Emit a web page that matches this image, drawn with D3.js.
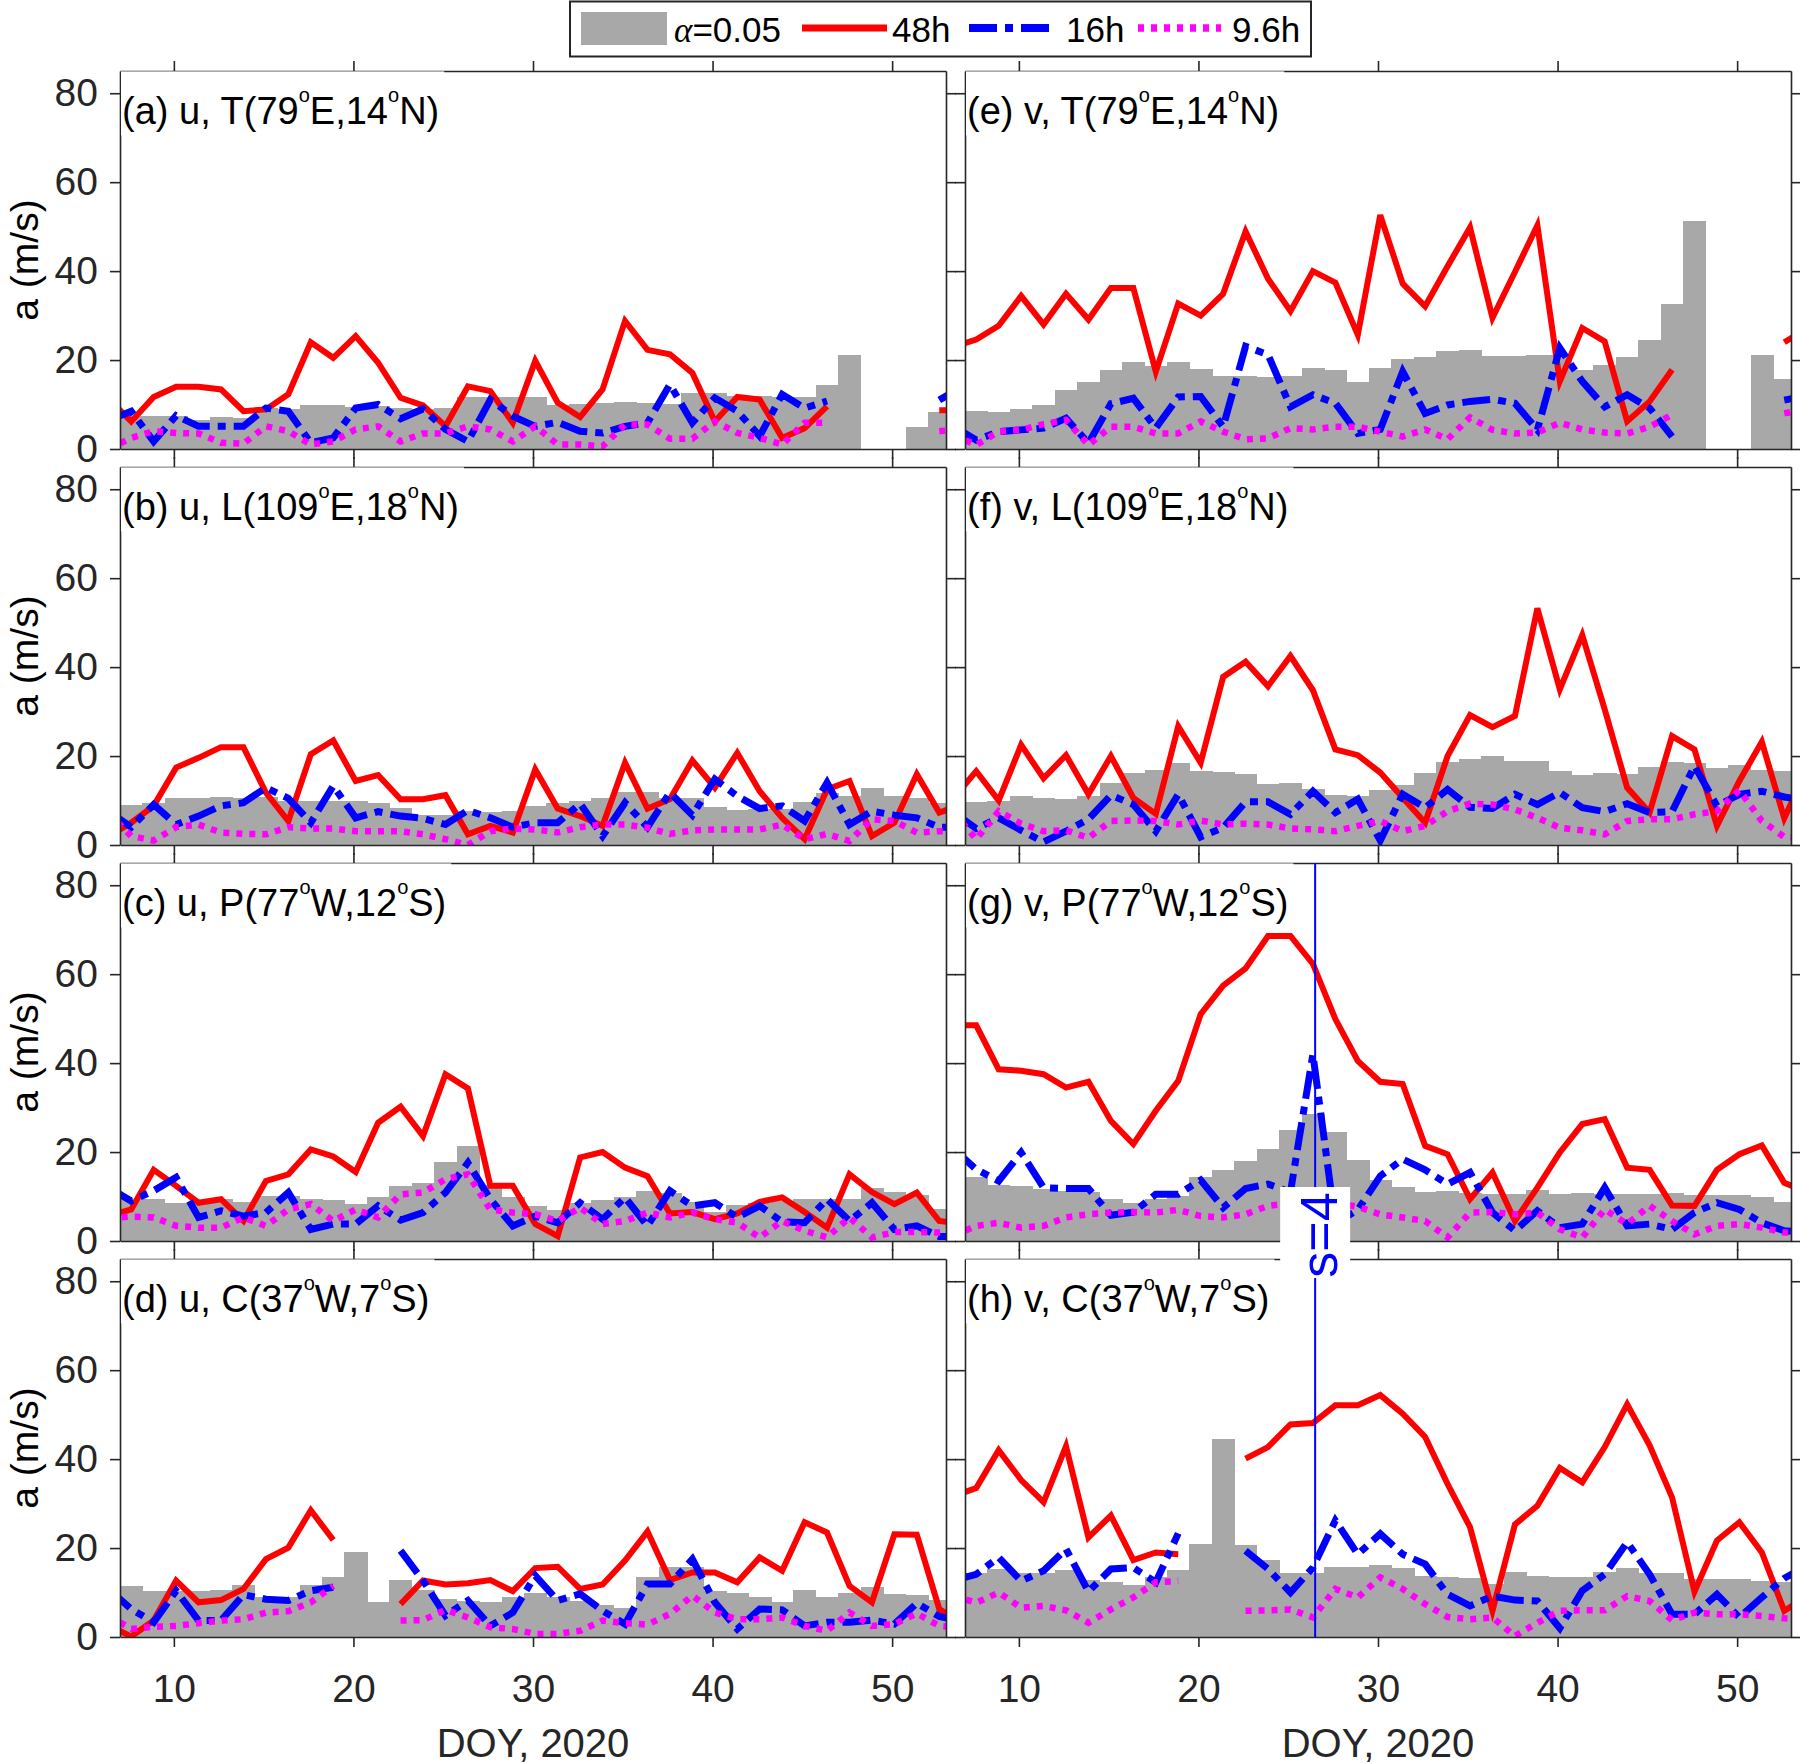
<!DOCTYPE html>
<html>
<head>
<meta charset="utf-8">
<script src="https://cdn.jsdelivr.net/npm/d3@7"></script>
<style>
  body { margin: 0; background: #fff; }
  svg { display: block; font-family: "Liberation Sans", Arial, Helvetica, sans-serif; }
  .axis path, .axis line { stroke: #262626; stroke-width: 1.6; }
  .axis text { fill: #262626; font-size: 39px; font-family: "Liberation Sans", Arial, Helvetica, sans-serif; }
</style>
</head>
<body>
<svg width="1800" height="1764"></svg>
<script>
// sample times (DOY); first and last fall just outside the axes
const days = [6.375, 7.625, 8.875, 10.125, 11.375, 12.625, 13.875, 15.125, 16.375, 17.625,
  18.875, 20.125, 21.375, 22.625, 23.875, 25.125, 26.375, 27.625, 28.875, 30.125,
  31.375, 32.625, 33.875, 35.125, 36.375, 37.625, 38.875, 40.125, 41.375, 42.625,
  43.875, 45.125, 46.375, 47.625, 48.875, 50.125, 51.375, 52.625, 53.875]
const barDays = days.slice(1, 38)
const barWidth = 1.25
const xTicks = [10, 20, 30, 40, 50]
const yTicks = [0, 20, 40, 60, 80]
const markDay = 26.5

// (a) u, T
const aSig = [7.5, 7.5, 7.5, 6.6, 7.1, 7.0, 9.2, 9.1, 9.8, 9.8, 9.5, 9.6, 9.2, 9.1, 9.2, 11.7, 11.7, 11.6, 11.6, 10.0, 10.2, 10.4, 10.5, 10.4, 10.2, 12.5, 12.5, 12.0, 12.0, 11.7, 11.7, 14.3, 21.1, null, null, 5.0, 8.3]
const a48 = [11.2, 6.2, 11.7, 14, 14, 13.4, 8.5, 8.9, 12.3, 24, 20.5, 25.4, 19.4, 11.5, 9.8, 5.1, 14.1, 13, 5.9, 19.8, 10.4, 7.2, 13.4, 28.8, 22.3, 21.3, 17.1, 6.2, 11.7, 11.1, 2.5, 4.7, 9.6, null, null, null, null, 8.7, 8.7]
const a16 = [6.5, 8.5, 1.7, 7.5, 5.1, 5.1, 5.1, 9.2, 8.5, 1.4, 2.5, 9.2, 10, 6.8, 9, 4.4, 1.7, 11.1, 7.4, 5.1, 6, 4, 3.6, 5.1, 5.9, 14.5, 5.9, 11.5, 8.5, 2.9, 12.3, 9.2, 10.8, null, null, null, null, 11, 14]
const a96 = [0, 2.5, 4, 3.6, 3.5, 1.4, 1.2, 5.1, 4, 1, 1.7, 4.4, 5.1, 1.7, 3.5, 3.5, 5.1, 4.4, 1.7, 5.1, 1, 1, 0.6, 5.5, 5.5, 2.3, 2.3, 6.2, 3.6, 2.5, 1, 5.9, 5.9, null, null, null, null, 4, 4.5]

// (b) u, L
const bSig = [8.9, 9.5, 10.5, 10.6, 10.8, 10.6, 10.8, 9.9, 10, 10, 9.9, 9.5, 8.4, 6.7, 6.7, 7.6, 7.5, 7.6, 8.8, 9.5, 9.9, 10.5, 11.9, 11.9, 10.5, 10.5, 8.5, 7.8, 8.2, 8.2, 9.7, 11.8, 11, 12.9, 11, 10.5, 9.5]
const b48 = [2, 5, 8.8, 17.4, 19.6, 22, 22, 11.8, 5.4, 20.4, 23.5, 14.4, 15.7, 10.3, 10.3, 11.2, 2.4, 4.3, 2.8, 17, 8.2, 6.5, 4.3, 18.5, 8.2, 10.3, 19, 12.9, 20.7, 12.1, 6.1, 1.3, 12.5, 14.4, 2, 5, 15.9, 7.3, 9]
const b16 = [7.6, 4, 9.1, 4.6, 6.5, 8.8, 9.5, 12.9, 10.5, 5, 13.3, 6.1, 7.5, 6.5, 6, 4.6, 7.8, 6.1, 4, 5, 5, 9.3, 2, 9.5, 4, 11.8, 6.7, 14.8, 11, 8.2, 8.8, 5.4, 14, 4.6, 7.6, 6.7, 6.1, 4, 4]
const b96 = [7.2, 2, 1, 4, 4.6, 2.8, 2.5, 2.4, 4, 3.7, 3.7, 3.1, 3.1, 3.1, 2.4, 1.3, 0, 3.1, 3.7, 3.5, 2.8, 4, 4.6, 4.6, 3.9, 2.5, 3.3, 3.5, 3.5, 3.5, 4.6, 1.3, 2.5, 0.9, 5.8, 5.4, 2.8, 3.1, 3]

// (c) u, P
const cSig = [9.5, 9.4, 8.6, 8.8, 9.5, 8.8, 10.1, 10.1, 9.5, 9.2, 8.3, 10, 12.4, 13.1, 17.8, 21.4, 12.5, 10, 7.9, 7, 8.6, 9.2, 10, 11.3, 10.9, 8.8, 6.5, 8, 8.6, 9, 9.4, 9.4, 9.5, 12, 11, 10.3, 7.3]
const c48 = [5.7, 7.1, 16, 12.4, 8.6, 9.4, 4.5, 13.5, 15, 20.6, 19, 15.5, 26.6, 30.2, 23.6, 37.5, 34.3, 12.4, 12.4, 3.8, 1.1, 18.8, 20, 16.5, 14.6, 6.2, 6.5, 4.9, 6.2, 8.8, 9.8, 6.5, 3, 15, 11, 8.3, 10.9, 4.5, 4]
const c16 = [12, 9, 11.3, 14.3, 5.3, 6.8, 5.6, 6.4, 10.9, 2.6, 3.8, 3.8, 7.9, 4.7, 6.4, 10.9, 17.6, 9.4, 3.4, 5.6, 4.1, 8.6, 4.9, 9.8, 3.4, 11.3, 7.9, 8.6, 5.3, 7.9, 4.3, 4.1, 9.4, 4.5, 8.6, 2.6, 3.4, 1, 1]
const c96 = [5.1, 5.5, 5.3, 3.4, 3, 3, 5.3, 3.4, 7.1, 8.3, 4.5, 7.1, 5.3, 10.5, 10.9, 13.9, 15, 7.1, 6.4, 6, 4.5, 7.5, 3.8, 4.5, 6.4, 5.3, 6.4, 4.9, 4.1, 0.8, 4.5, 2.3, 0.8, 5.3, 0.8, 2, 2, 1.9, 2]

// (d) u, C
const dSig = [11.5, 10.3, 10.3, 10.3, 10.6, 11.8, 9.1, 8.9, 11.8, 13.4, 19.2, 7.9, 12.8, 10.6, 8.5, 8.2, 7.8, 9.1, 10, 8.9, 8.2, 7.3, 6.5, 13.6, 15.7, 15.7, 10.4, 9.8, 8.9, 7.8, 10.6, 9.1, 10, 11.2, 9.7, 9.5, 8.3]
const d48 = [2.7, 0.1, 3.7, 12.7, 7.8, 8.3, 10.8, 17.5, 20.1, 28.5, 21.8, null, null, 7.4, 12.7, 11.8, 12.1, 12.8, 10.3, 15.5, 15.8, 10.8, 11.8, 17.2, 23.7, 12.8, 14.5, 14.5, 12.3, 17.9, 14.9, 25.8, 23.5, 11.5, 7.8, 23.1, 23, 6.3, 3]
const d16 = [10.7, 6.3, 3.3, 10.4, 3.7, 3.7, 9.5, 8.5, 8.2, 10.4, 11.2, null, null, 19.4, 12.7, 4.8, 8.2, 2.5, 5.5, 13.8, 8.2, 9.7, 5.9, 2.9, 11.9, 11.9, 17.5, 7.8, 1.8, 6.3, 6.1, 2.5, 3.3, 3.3, 3.8, 2.9, 7.6, 4.6, 3.5]
const d96 = [4.8, 1.8, 2.3, 2.5, 3.1, 3.7, 4, 5.5, 5.8, 7.8, 11.5, null, null, 3.7, 3.8, 6.1, 4.4, 2.2, 1.8, 0.7, 0.7, 1.4, 3.7, 3.1, 2.8, 5.2, 9.3, 5.5, 4, 4, 4.4, 2.5, 1.4, 5.5, 2.5, 2.9, 5.3, 2.5, 2]

// (e) v, T
const eSig = [8.6, 8.4, 9.0, 9.9, 13.2, 15, 17.7, 19.5, 18.7, 19.5, 18, 16.5, 16.5, 16.2, 16.5, 18.3, 17.8, 15, 18.3, 20.3, 20.8, 22, 22.2, 21, 21, 21.2, 21.2, 17.7, 19, 20.6, 24.6, 32.6, 51.3, null, null, 21.2, 15.7]
const e48 = [23, 24.6, 27.7, 34.4, 28, 34.9, 29.1, 36.2, 36.2, 17.4, 32.7, 30, 34.9, 48.9, 38.3, 31, 40, 37.4, 25.7, 52.6, 37.2, 32.1, 41.1, 49.8, 29.5, 39.8, 50.3, 15.2, 27.2, 24.2, 6.2, 10.7, 17.8, null, null, null, null, 24, 27]
const e16 = [5, 2, 3.9, 4.3, 4.7, 6.9, 1.3, 10.2, 11.4, 4.7, 11.7, 11.8, 5, 23.1, 21.2, 9.5, 12.2, 10.3, 3.5, 4.4, 17.4, 8, 9.9, 10.7, 11.2, 10.3, 4.3, 22.7, 15.2, 9.5, 12.2, 9.2, 2.8, null, null, null, null, 11, 12]
const e96 = [3.1, 0.9, 3.9, 4.3, 5.6, 6.5, 0.9, 5, 5, 3.5, 3.5, 6.2, 3.9, 2.2, 2.4, 4.7, 4.4, 5, 5, 3.9, 2.8, 4.4, 2.2, 7.1, 4.3, 3.5, 3.7, 5.9, 4.4, 3.7, 3.5, 5, 7.7, null, null, null, null, 8, 9]

// (f) v, L
const fSig = [9.7, 9.9, 11, 10.6, 10.3, 11, 14, 16.3, 16.8, 18.5, 16.6, 16.4, 15.9, 13.8, 14, 12.7, 11.2, 11, 12.3, 13.6, 16.3, 18.7, 19.3, 20, 19, 19, 16.6, 15.7, 16.2, 15.9, 17.6, 18.7, 18.5, 17.4, 18, 16.9, 16.6]
const f48 = [10.6, 16.6, 10, 22.5, 15, 20.2, 11.4, 20, 10.6, 7, 26.7, 18.5, 37.8, 41.2, 35.7, 42.5, 34.8, 21.5, 20.2, 16.3, 10.6, 5, 20, 29.2, 26.5, 29, 53.2, 35, 47.2, 30.5, 12.9, 7.3, 24.5, 21.5, 4.3, 14.4, 23.2, 6, 17]
const f16 = [7.3, 3.7, 6.1, 3.3, 0.7, 3.1, 5.8, 11.2, 9.1, 3.1, 11.4, 1.8, 3.9, 9.7, 9.7, 6.9, 12.1, 7.3, 10.3, 1, 11.4, 8.4, 12.5, 8.5, 8.2, 11.4, 9.1, 11.8, 8.4, 7.5, 9.3, 7.3, 7.5, 17.8, 8.8, 11.4, 12.1, 10.8, 10]
const f96 = [7.3, 1.3, 7.6, 4.8, 3.1, 3.3, 1.6, 5.4, 5.5, 5.4, 4.6, 5.5, 4.6, 4.8, 4.6, 3.7, 3.5, 3.1, 4.3, 5.4, 3.1, 4.3, 7.6, 9.3, 9.1, 8, 6.1, 3.9, 3.3, 2.4, 5.4, 5.8, 5.8, 6.9, 7.6, 12.3, 5.4, 1.8, 1.5]

// (g) v, P
const gSig = [14.4, 12.6, 12.4, 11.6, 11.3, 11, 9.4, 8.6, 9.4, 10.1, 14.3, 16, 18, 20.8, 25, 28.5, 24.4, 18.2, 13.7, 12.2, 11, 11.3, 10.7, 10.5, 10.5, 11.5, 10.5, 10.9, 10.5, 10.5, 10.5, 10.7, 10.3, 10.3, 10.3, 9.8, 8.8]
const g48 = [48.5, 48.5, 38.6, 38.3, 37.5, 34.5, 35.8, 27, 21.8, 29.3, 36, 51, 57.4, 61.3, 68.6, 68.6, 62.3, 49.9, 40.5, 35.8, 35.3, 21.4, 19.5, 9.4, 15.4, 4.5, 12, 19.9, 26.3, 27.4, 16.5, 16, 8, 7.9, 16, 19.5, 21.5, 13.1, 11]
const g16 = [20.7, 16.1, 13.5, 19.9, 12, 11.8, 11.8, 5.8, 6.5, 10.5, 10.5, 13.7, 7.5, 11.8, 12.8, 11, 42, 4, 7, 14.6, 18.4, 16, 12.8, 15.4, 6.4, 2.3, 6.8, 3, 3.8, 12, 3.4, 3.8, 2.6, 6.4, 8.6, 7.1, 4.1, 2.3, 2]
const g96 = [1.2, 3.4, 4.1, 3, 3.4, 5.3, 6, 6.4, 6.5, 6.4, 7, 5.6, 5.3, 6, 7.9, 8.5, 9, 8.5, 7.7, 6, 5.3, 4.5, 0.8, 6.4, 6.5, 6, 6.4, 2.6, 0.8, 7.1, 3.8, 7.9, 4.5, 1.5, 3.4, 3.8, 3, 1.9, 2]

// (h) v, C
const hSig = [14.3, 15.3, 14.5, 14.3, 15, 12.8, 12.3, 11.7, 13.4, 15, 20.9, 44.6, 20.8, 17.3, 14.3, 14.3, 15.8, 15.8, 16.2, 15.6, 13.8, 13.4, 13.2, 11.9, 14.7, 13.8, 13.5, 13.4, 14.7, 15.6, 14.5, 14.5, 13, 13, 13, 12.5, 12.3]
const h48 = [31.7, 33.5, 42, 35.3, 30.3, 42.9, 22.4, 27.3, 17.3, 19, 18.6, null, null, 40.1, 42.7, 47.8, 48.1, 52.1, 52.1, 54.4, 50.2, 45, 34.4, 24.7, 5.9, 25.3, 29.5, 38, 34.8, 42.7, 52.3, 43.1, 31.4, 10.2, 21.7, 25.8, 19, 5.9, 9]
const h16 = [12.7, 14.1, 17.9, 12.6, 14.9, 19.8, 10.2, 15.3, 15.6, 12.3, 23.3, null, null, 19.4, 15.3, 10, 15.6, 26.2, 18.6, 23.2, 18.6, 16.4, 9.6, 7, 9.2, 8.3, 8.1, 2, 10.4, 14.1, 21.3, 14.1, 5.1, 5.1, 9.6, 4.4, 8.9, 13.2, 16]
const h96 = [9.3, 7.7, 10, 6.6, 7, 6, 3.2, 6.2, 8.9, 12.3, 12.6, null, null, 5.9, 6, 6.2, 4.4, 10.8, 8.9, 13.4, 10.8, 7.4, 4.5, 4, 4.4, 0.2, 3.2, 5.9, 6, 6, 9.2, 8.1, 3.8, 5.5, 5.1, 5.1, 4.7, 4.2, 4]

const panels = [
  {id: "a", col: 0, row: 0, title: "(a) u, T(79°E,14°N)", sig: aSig, s48: a48, s16: a16, s96: a96},
  {id: "b", col: 0, row: 1, title: "(b) u, L(109°E,18°N)", sig: bSig, s48: b48, s16: b16, s96: b96},
  {id: "c", col: 0, row: 2, title: "(c) u, P(77°W,12°S)", sig: cSig, s48: c48, s16: c16, s96: c96},
  {id: "d", col: 0, row: 3, title: "(d) u, C(37°W,7°S)", sig: dSig, s48: d48, s16: d16, s96: d96},
  {id: "e", col: 1, row: 0, title: "(e) v, T(79°E,14°N)", sig: eSig, s48: e48, s16: e16, s96: e96},
  {id: "f", col: 1, row: 1, title: "(f) v, L(109°E,18°N)", sig: fSig, s48: f48, s16: f16, s96: f96},
  {id: "g", col: 1, row: 2, title: "(g) v, P(77°W,12°S)", sig: gSig, s48: g48, s16: g16, s96: g96},
  {id: "h", col: 1, row: 3, title: "(h) v, C(37°W,7°S)", sig: hSig, s48: h48, s16: h16, s96: h96}
]

const svg = d3.select("svg")
const width = +svg.attr("width")
const height = +svg.attr("height")

const colX = [120, 965]
const rowY = [71, 467, 863, 1259]
const pw = 826
const ph = 378

const sigColor = "#a8a8a8"
const series = [
  {key: "s48", color: "#ff0000", w: 6, dash: null},
  {key: "s16", color: "#0000ff", w: 7, dash: "28,8,8,8"},
  {key: "s96", color: "#ff00ff", w: 6.5, dash: "6,7"}
]

const xScale = d3.scaleLinear().domain([7, 53]).range([0, pw])
const yScale = d3.scaleLinear().domain([0, 85]).range([ph, 0])

const line = d3.line()
  .defined(d => d[1] != null)
  .x(d => xScale(d[0]))
  .y(d => yScale(d[1]))

const noLabel = () => ""

panels.forEach(p => {
  const g = svg.append("g")
    .attr("transform", `translate(${colX[p.col]},${rowY[p.row]})`)

  g.append("clipPath").attr("id", "clip-" + p.id)
    .append("rect").attr("width", pw).attr("height", ph)

  const plot = g.append("g").attr("clip-path", `url(#clip-${p.id})`)

  const bw = xScale(barWidth) - xScale(0)
  plot.selectAll("rect.bar")
    .data(barDays.map((d, i) => [d, p.sig[i]]).filter(d => d[1] != null))
    .enter().append("rect")
    .attr("class", "bar")
    .attr("x", d => xScale(d[0] - barWidth / 2))
    .attr("width", bw + 0.6)
    .attr("y", d => yScale(d[1]))
    .attr("height", d => ph - yScale(d[1]))
    .attr("fill", sigColor)
    .attr("shape-rendering", "crispEdges")

  series.forEach(s => {
    plot.append("path")
      .datum(days.map((d, i) => [d, p[s.key][i]]))
      .attr("d", line)
      .attr("fill", "none")
      .attr("stroke", s.color)
      .attr("stroke-width", s.w)
      .attr("stroke-dasharray", s.dash)
  })

  // frame + outward ticks on all four sides
  g.append("g").attr("class", "axis")
    .attr("transform", `translate(0,${ph})`)
    .call(d3.axisBottom(xScale).tickValues(xTicks).tickSize(10).tickSizeOuter(0)
      .tickPadding(27).tickFormat(p.row === 3 ? d3.format("d") : noLabel))
  g.append("g").attr("class", "axis")
    .call(d3.axisTop(xScale).tickValues(xTicks).tickSize(10).tickSizeOuter(0).tickFormat(noLabel))
  g.append("g").attr("class", "axis")
    .call(d3.axisLeft(yScale).tickValues(yTicks).tickSize(10).tickSizeOuter(0)
      .tickPadding(12).tickFormat(p.col === 0 ? d3.format("d") : noLabel))
  g.append("g").attr("class", "axis")
    .attr("transform", `translate(${pw},0)`)
    .call(d3.axisRight(yScale).tickValues(yTicks).tickSize(10).tickSizeOuter(0).tickFormat(noLabel))

  // panel title with white box, degree sign raised like a superscript
  const box = g.append("rect").attr("fill", "#fff")
  const t = g.append("text")
    .attr("x", 2)
    .attr("y", 53)
    .attr("font-size", 38)
    .attr("fill", "#000")
  p.title.split("°").forEach((part, i) => {
    if (i > 0) {
      t.append("tspan").attr("font-size", 20).attr("dy", -22).text("o")
      t.append("tspan").attr("dy", 22).text(part)
    } else {
      t.append("tspan").text(part)
    }
  })
  const tl = t.node().getComputedTextLength()
  box.attr("x", 1).attr("y", 0.4).attr("width", tl + 6).attr("height", 64)

  if (p.col === 0) {
    svg.append("text")
      .attr("transform", `translate(38,${rowY[p.row] + ph / 2}) rotate(-90)`)
      .attr("text-anchor", "middle")
      .attr("font-size", 39)
      .attr("fill", "#000")
      .text("a (m/s)")
  }
  if (p.row === 3) {
    svg.append("text")
      .attr("x", colX[p.col] + pw / 2)
      .attr("y", 1757)
      .attr("text-anchor", "middle")
      .attr("font-size", 40)
      .attr("fill", "#262626")
      .text("DOY, 2020")
  }
})

// s=4 marker across panels (g) and (h)
const mx = colX[1] + xScale(markDay)
svg.append("line")
  .attr("x1", mx).attr("x2", mx)
  .attr("y1", rowY[2]).attr("y2", rowY[3] + ph)
  .attr("stroke", "#0000ff")
  .attr("stroke-width", 2)
svg.append("rect")
  .attr("x", mx - 35).attr("y", 1187)
  .attr("width", 70).attr("height", 91)
  .attr("fill", "#fff")
svg.append("text")
  .attr("transform", `translate(${mx + 22},1235) rotate(-90)`)
  .attr("text-anchor", "middle")
  .attr("font-size", 52)
  .attr("fill", "#0000ff")
  .text("s=4")

// legend
const lg = svg.append("g")
lg.append("rect")
  .attr("x", 570).attr("y", 1.5)
  .attr("width", 741).attr("height", 55)
  .attr("fill", "#fff")
  .attr("stroke", "#262626")
  .attr("stroke-width", 2)
lg.append("rect")
  .attr("x", 581).attr("y", 12)
  .attr("width", 86).attr("height", 33)
  .attr("fill", sigColor)
const alpha = lg.append("text").attr("x", 674).attr("y", 42).attr("font-size", 35).attr("fill", "#000")
alpha.append("tspan").attr("font-family", "'Liberation Serif', 'DejaVu Serif', serif")
  .attr("font-style", "italic").text("α")
alpha.append("tspan").text("=0.05")

const legendItems = [
  {key: "s48", label: "48h", x0: 802, x1: 887, tx: 892},
  {key: "s16", label: "16h", x0: 969, x1: 1055, tx: 1066},
  {key: "s96", label: "9.6h", x0: 1138, x1: 1221, tx: 1232}
]
legendItems.forEach(it => {
  const s = series.find(d => d.key === it.key)
  lg.append("line")
    .attr("x1", it.x0).attr("x2", it.x1)
    .attr("y1", 28).attr("y2", 28)
    .attr("stroke", s.color)
    .attr("stroke-width", s.w + 1)
    .attr("stroke-dasharray", s.dash)
  lg.append("text")
    .attr("x", it.tx).attr("y", 42)
    .attr("font-size", 35)
    .attr("fill", "#000")
    .text(it.label)
})
</script>
</body>
</html>
